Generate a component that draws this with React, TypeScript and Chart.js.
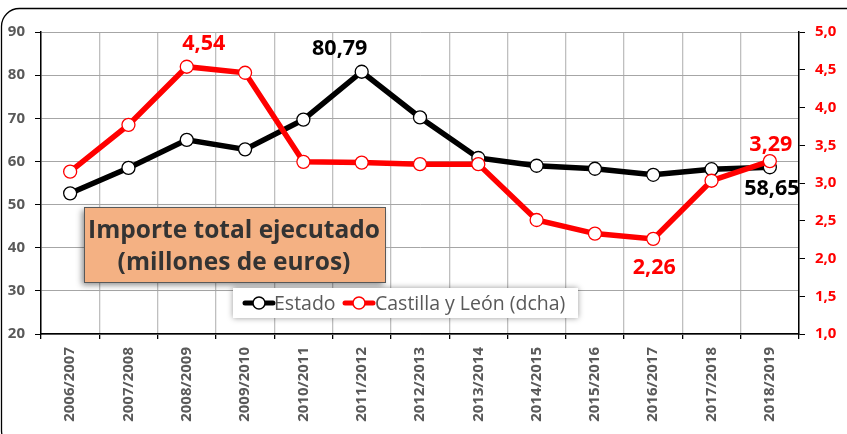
import React, { useEffect, useRef } from "react";
import { Chart, registerables } from "chart.js";

Chart.register(...registerables);

const categories = [
  "2006/2007", "2007/2008", "2008/2009", "2009/2010", "2010/2011", "2011/2012", "2012/2013",
  "2013/2014", "2014/2015", "2015/2016", "2016/2017", "2017/2018", "2018/2019",
];
const estado = [52.6, 58.5, 65.0, 62.8, 69.7, 80.79, 70.2, 60.8, 59.0, 58.3, 56.9, 58.2, 58.65];
const castillaLeon = [3.15, 3.77, 4.54, 4.46, 3.28, 3.27, 3.25, 3.25, 2.51, 2.33, 2.26, 3.03, 3.29];
const leftTicks = { min: 20, max: 90, step: 10 };
const rightTicks = { min: 1, max: 5, step: 0.5 };
const titleLines = ["Importe total ejecutado", "(millones de euros)"];
const legendLabels = ["Estado", "Castilla y León (dcha)"];
// [dataset, index, text] labels shown in the chart
const valueLabels: [number, number, string][] = [
  [1, 2, "4,54"],
  [0, 5, "80,79"],
  [1, 12, "3,29"],
  [0, 12, "58,65"],
  [1, 10, "2,26"],
];

const FONT = "'Open Sans', 'Noto Sans', sans-serif";
const RED = "#FF0000";

export default function App() {
  const ref = useRef<HTMLCanvasElement | null>(null);

  useEffect(() => {
    if (!ref.current) return;
    const labelStyle: Record<string, { dx: number; dy: number; color: string }> = {
      "4,54": { dx: 17, dy: -23, color: RED },
      "80,79": { dx: -22, dy: -23, color: "#000" },
      "3,29": { dx: 1, dy: -16, color: RED },
      "58,65": { dx: 2, dy: 22, color: "#000" },
      "2,26": { dx: 1, dy: 29, color: RED },
    };

    const overlay = {
      id: "overlay",
      beforeDraw(chart: any) {
        const ctx = chart.ctx;
        ctx.save();
        ctx.fillStyle = "#fff";
        ctx.fillRect(0, 0, chart.width, chart.height);
        ctx.restore();
      },
      afterDraw(chart: any) {
        const ctx = chart.ctx;
        ctx.save();
        // frame
        ctx.strokeStyle = "#000";
        ctx.lineWidth = 1.3;
        ctx.beginPath();
        ctx.roundRect(1.5, 8.5, 870, 440, 18);
        ctx.stroke();

        // title box
        ctx.save();
        ctx.shadowColor = "rgba(0,0,0,0.45)";
        ctx.shadowBlur = 6;
        ctx.shadowOffsetX = -2;
        ctx.shadowOffsetY = 3;
        ctx.fillStyle = "#F4B183";
        ctx.fillRect(84, 207, 301, 75);
        ctx.restore();
        ctx.strokeStyle = "#595959";
        ctx.lineWidth = 1;
        ctx.strokeRect(84.5, 207.5, 301, 75);
        ctx.fillStyle = "#333333";
        ctx.font = `bold 24.5px ${FONT}`;
        ctx.textAlign = "center";
        ctx.textBaseline = "middle";
        ctx.fillText(titleLines[0], 234, 231);
        ctx.fillText(titleLines[1], 234, 263);

        // legend
        ctx.save();
        ctx.shadowColor = "rgba(0,0,0,0.4)";
        ctx.shadowBlur = 6;
        ctx.fillStyle = "#fff";
        ctx.fillRect(233, 288, 345, 30);
        ctx.restore();
        const drawSample = (x: number, color: string) => {
          ctx.strokeStyle = color;
          ctx.lineWidth = 5;
          ctx.lineCap = "round";
          ctx.beginPath();
          ctx.moveTo(x, 303);
          ctx.lineTo(x + 28, 303);
          ctx.stroke();
          ctx.fillStyle = "#fff";
          ctx.lineWidth = 1.5;
          ctx.beginPath();
          ctx.arc(x + 14, 303, 6, 0, Math.PI * 2);
          ctx.fill();
          ctx.stroke();
        };
        drawSample(245, "#000");
        drawSample(345, RED);
        ctx.fillStyle = "#595959";
        ctx.font = `19.5px ${FONT}`;
        ctx.textAlign = "left";
        ctx.fillText(legendLabels[0], 274, 304);
        ctx.fillText(legendLabels[1], 375, 304);

        // value labels
        ctx.font = `bold 21.5px ${FONT}`;
        ctx.textAlign = "center";
        for (const [ds, idx, text] of valueLabels) {
          const el = chart.getDatasetMeta(ds).data[idx];
          const st = labelStyle[text];
          ctx.fillStyle = st.color;
          ctx.fillText(text, el.x + st.dx, el.y + st.dy);
        }
        ctx.restore();
      },
    };

    const chart = new Chart(ref.current, {
      type: "line",
      data: {
        labels: categories,
        datasets: [
          {
            label: legendLabels[0],
            data: estado,
            yAxisID: "y",
            borderColor: "#000",
            borderWidth: 5.5,
            pointRadius: 6.5,
            pointBackgroundColor: "#fff",
            pointBorderColor: "#000",
            pointBorderWidth: 1.3,
            order: 2,
          },
          {
            label: legendLabels[1],
            data: castillaLeon,
            yAxisID: "y1",
            borderColor: RED,
            borderWidth: 5.5,
            pointRadius: 6.5,
            pointBackgroundColor: "#fff",
            pointBorderColor: RED,
            pointBorderWidth: 1.3,
            order: 1,
          },
        ],
      },
      options: {
        responsive: false,
        animation: false,
        layout: { padding: { left: 0, right: 0, top: 32, bottom: 0 } },
        plugins: { legend: { display: false }, tooltip: { enabled: false } },
        scales: {
          x: {
            offset: true,
            grid: { offset: true, color: "#BFBFBF", lineWidth: 1.3, tickColor: "#000", tickLength: 5 },
            border: { color: "#000", width: 1.5 },
            ticks: {
              color: "#595959",
              font: { family: FONT, size: 15, weight: "bold" },
              minRotation: 90,
              maxRotation: 90,
              autoSkip: false,
              padding: 8,
            },
            afterFit: (s: any) => { s.height = 100; },
          },
          y: {
            position: "left",
            min: leftTicks.min,
            max: leftTicks.max,
            ticks: {
              stepSize: leftTicks.step,
              color: "#595959",
              font: { family: FONT, size: 15, weight: "bold" },
              padding: 10,
            },
            grid: {
              color: "#A6A6A6",
              borderDash: [6, 3, 2, 3],
              tickBorderDash: [],
              tickColor: "#000",
              tickLength: 6,
              lineWidth: 1,
            },
            border: { color: "#000", width: 1.5 },
            afterFit: (s: any) => { s.width = 41; },
          },
          y1: {
            position: "right",
            min: rightTicks.min,
            max: rightTicks.max,
            ticks: {
              stepSize: rightTicks.step,
              color: RED,
              font: { family: FONT, size: 15, weight: "bold" },
              padding: 10,
              callback: (v: any) => Number(v).toFixed(1).replace(".", ","),
            },
            grid: { drawOnChartArea: false, tickColor: "#000", tickLength: 6 },
            border: { color: "#000", width: 1.5 },
            afterFit: (s: any) => { s.width = 48; },
          },
        },
      } as any,
      plugins: [overlay],
    });
    return () => chart.destroy();
  }, []);

  return (
    <div style={{ position: "fixed", left: 0, top: 0, width: 847, height: 434 }}>
      <canvas ref={ref} width={847} height={434} />
    </div>
  );
}
